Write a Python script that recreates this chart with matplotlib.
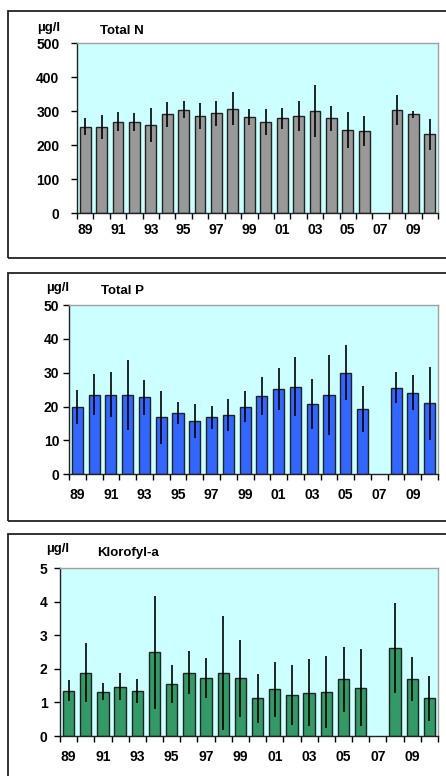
import matplotlib.pyplot as plt
import numpy as np
from matplotlib.patches import Rectangle

plt.rcParams['font.family'] = ['Liberation Sans', 'DejaVu Sans']
plt.rcParams['font.weight'] = 'bold'

years = list(range(1989, 2011))
tick_labels = ['89', '91', '93', '95', '97', '99', '01', '03', '05', '07', '09']

# 2007 mangler (NaN)
tot_n = [255, 255, 269, 269, 260, 291, 304, 286, 294, 308, 283, 269, 279, 286, 301,
         279, 245, 242, np.nan, 304, 291, 232]
tot_n_sd = [24, 35, 28, 26, 50, 36, 25, 37, 37, 49, 24, 39, 32, 44, 76,
            38, 54, 43, np.nan, 45, 10, 45]

tot_p = [20.0, 23.5, 23.5, 23.5, 22.7, 16.8, 18.2, 15.8, 16.8, 17.5, 20.0, 23.1, 25.2,
         25.9, 20.7, 23.5, 30.0, 19.3, np.nan, 25.6, 24.1, 21.0]
tot_p_sd = [5.0, 6.0, 6.7, 10.3, 5.2, 7.9, 3.2, 5.0, 3.4, 4.6, 4.7, 5.7, 6.3,
            8.8, 7.4, 11.8, 8.2, 6.8, np.nan, 4.6, 5.2, 10.8]

klorofyl = [1.35, 1.89, 1.32, 1.47, 1.35, 2.49, 1.54, 1.89, 1.74, 1.89, 1.72, 1.12, 1.39,
            1.22, 1.29, 1.32, 1.69, 1.44, np.nan, 2.63, 1.69, 1.12]
klorofyl_sd = [0.31, 0.87, 0.26, 0.40, 0.36, 1.69, 0.57, 0.65, 0.60, 1.70, 1.14, 0.74, 0.83,
               0.90, 1.00, 1.08, 0.96, 1.14, np.nan, 1.35, 0.66, 0.67]

W, H = 446, 776
fig = plt.figure(figsize=(W / 100, H / 100), dpi=100)

panels = [
    # data, sd, title, colour, ymax, step, axes box px (l, t, r, b), frame px (top, bottom),
    # unit pos px, title pos px, ylabel pad, xlabel pad
    (tot_n, tot_n_sd, 'Total N', '#999999', 500, 100, (77, 43.3, 438, 213.3), (11, 258),
     (37, 28), (100, 31), 8.6, 7),
    (tot_p, tot_p_sd, 'Total P', '#3366FF', 50, 10, (69, 305, 438, 474.3), (273, 521),
     (46, 288), (101, 291), 3, 10),
    (klorofyl, klorofyl_sd, 'Klorofyl-a', '#339966', 5, 1, (60, 568.3, 438, 736), (534, 790),
     (46, 549), (97, 553), 5, 10),
]

x = np.arange(len(years))

for vals, sd, title, col, ymax, step, box, frame, upos, tpos, ypad, xpad in panels:
    l, t, r, b = box
    ax = fig.add_axes([l / W, 1 - b / H, (r - l) / W, (b - t) / H])
    ax.set_facecolor('#CCFFFF')
    ax.bar(x, vals, width=0.66, color=col, edgecolor='#222222', linewidth=1.0, zorder=2)
    ax.errorbar(x, vals, yerr=sd, fmt='none', ecolor='black', elinewidth=1.2,
                capsize=0, zorder=3)
    ax.set_xlim(-0.5, len(years) - 0.5)
    ax.set_ylim(0, ymax)
    ax.set_yticks(np.arange(0, ymax + step / 2, step))
    ax.tick_params(axis='y', direction='out', length=4, width=1, labelsize=10, pad=ypad)
    # ticks at category boundaries, labels at every 2nd category
    ax.set_xticks(np.arange(-0.5, len(years), 1))
    ax.set_xticklabels([])
    ax.tick_params(axis='x', which='major', direction='out', length=4, width=1)
    ax.set_xticks(np.arange(0, len(years), 2), minor=True)
    ax.set_xticklabels(tick_labels, minor=True)
    ax.tick_params(axis='x', which='minor', length=0, labelsize=10, pad=xpad)
    for lab in ax.get_xticklabels(minor=True) + ax.get_yticklabels():
        lab.set_fontweight('bold')
    ax.spines['left'].set_color('#222222')
    ax.spines['bottom'].set_color('#222222')
    ax.spines['top'].set_color('#A0A0A0')
    ax.spines['right'].set_color('#A0A0A0')
    for s in ax.spines.values():
        s.set_linewidth(1.0)

    fig.text(upos[0] / W, 1 - upos[1] / H, 'µg/l', fontsize=9.5, fontweight='bold',
             ha='left', va='center')
    fig.text(tpos[0] / W, 1 - tpos[1] / H, title, fontsize=9.5, fontweight='bold',
             ha='left', va='center')

    ft, fb = frame
    fig.patches.append(Rectangle((8 / W, 1 - fb / H), (460 - 8) / W, (fb - ft) / H,
                                 transform=fig.transFigure, fill=False,
                                 edgecolor='#222222', linewidth=1.3))

fig.savefig('out.png', dpi=100)
